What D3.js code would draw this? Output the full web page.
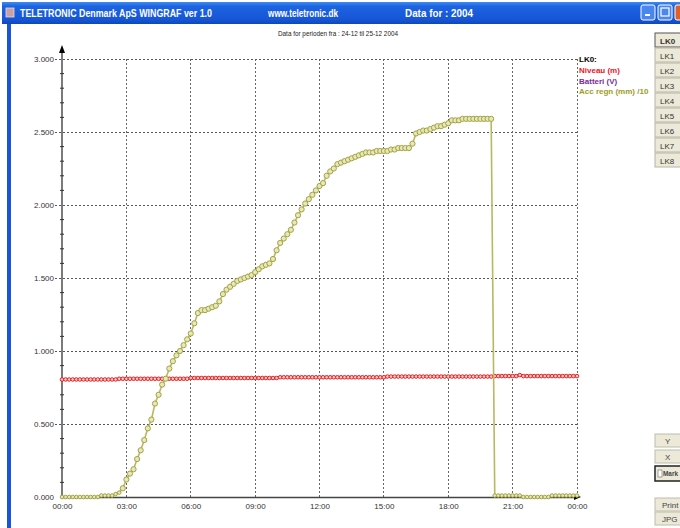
<!DOCTYPE html>
<html><head><meta charset="utf-8">
<script src="https://cdn.jsdelivr.net/npm/d3@7"></script>
<style>
html,body{margin:0;padding:0;background:#fff;}
svg{display:block;}
text{font-family:"Liberation Sans Narrow","Arial Narrow","Liberation Sans",sans-serif;}
</style></head>
<body>
<svg id="chart" width="680" height="528"></svg>
<script>
// ---- data ----
const xTickHours = [0, 3, 6, 9, 12, 15, 18, 21, 24];
const xTickLabels = ["00:00","03:00","06:00","09:00","12:00","15:00","18:00","21:00","00:00"];
const yTickValues = [0, 0.5, 1, 1.5, 2, 2.5, 3];
const yTickLabels = ["0.000","0.500","1.000","1.500","2.000","2.500","3.000"];
const sampleMinutes = 10; // one reading every 10 minutes, 00:00 .. 24:00

// Acc regn (mm)/10
const accRegn = [
 0,0,0,0,0,0,0,0,0,0,0,
 0.01,0.01,0.01,0.01,0.02,0.03,
 0.06,0.12,0.16,0.19,0.26,0.32,0.39,0.47,0.53,0.64,
 0.70,0.77,0.81,0.88,0.93,0.97,1.00,1.04,1.08,1.12,
 1.19,1.26,1.28,1.28,1.29,1.30,1.31,1.34,1.39,1.42,
 1.44,1.46,1.48,1.49,1.50,1.51,1.52,1.54,1.56,1.58,
 1.59,1.60,1.63,1.69,1.74,1.77,1.80,1.83,1.88,1.93,
 1.97,2.01,2.04,2.07,2.10,2.13,2.15,2.20,2.23,2.25,
 2.28,2.29,2.30,2.31,2.32,2.33,2.34,2.35,2.36,2.36,
 2.36,2.37,2.37,2.37,2.37,2.38,2.38,2.39,2.39,2.39,
 2.39,2.42,2.49,2.50,2.51,2.51,2.52,2.53,2.54,2.54,
 2.55,2.56,2.58,2.58,2.58,
 2.59,2.59,2.59,2.59,2.59,2.59,2.59,2.59,2.59,
 0.01,0.01,0.01,0.01,0.01,0.01,0.01,0.01,
 0,0,0,0,0,0,0,0,
 0.01,0.01,0.01,0.01,0.01,0.01,0.01,0.01
];

// Niveau (m)
const niveau = [
 0.805,0.805,0.805,0.805,0.805,0.805,0.805,0.805,0.805,0.805,0.805,0.805,0.805,0.805,0.805,0.805,
 0.81,0.81,0.81,0.81,0.81,0.81,0.81,0.81,0.81,0.81,0.81,0.81,0.81,0.81,0.81,0.81,0.81,0.81,0.81,0.81,
 0.815,0.815,0.815,0.815,0.815,0.815,0.815,0.815,0.815,0.815,0.815,0.815,0.815,0.815,0.815,0.815,0.815,0.815,0.815,0.815,0.815,0.815,0.815,0.815,0.815,
 0.82,0.82,0.82,0.82,0.82,0.82,0.82,0.82,0.82,0.82,0.82,0.82,0.82,0.82,0.82,0.82,0.82,0.82,0.82,0.82,0.82,0.82,0.82,0.82,0.82,0.82,0.82,0.82,0.82,0.82,
 0.825,0.825,0.825,0.825,0.825,0.825,0.825,0.825,0.825,0.825,0.825,0.825,0.825,0.825,0.825,0.825,0.825,0.825,0.825,0.825,0.825,0.825,0.825,0.825,0.825,0.825,0.825,0.825,0.825,0.825,
 0.828,0.828,0.828,0.828,0.828,0.828,0.828,0.835,0.828,0.828,0.828,0.828,0.828,0.828,0.828,0.828,0.828,0.828,0.828,0.828,0.828,0.828,0.828,0.828
];

const legendItems = [
 {label:"LK0:", color:"#000000"},
 {label:"Niveau (m)", color:"#e8141e"},
 {label:"Batteri (V)", color:"#7a2a9a"},
 {label:"Acc regn (mm) /10", color:"#9c9c1e"}
];
const channelButtons = ["LK0","LK1","LK2","LK3","LK4","LK5","LK6","LK7","LK8"];
const toolButtons = ["Y","X","Mark","","Print","JPG"];

// ---- drawing ----
const svg = d3.select("#chart");
const x = d3.scaleLinear().domain([0,24]).range([62,577]);
const y = d3.scaleLinear().domain([0,3]).range([497,59]);

// window chrome
const defs = svg.append("defs");
const g1 = defs.append("linearGradient").attr("id","tb").attr("x1",0).attr("y1",0).attr("x2",0).attr("y2",1);
g1.append("stop").attr("offset","0%").attr("stop-color","#3a8cf5");
g1.append("stop").attr("offset","20%").attr("stop-color","#1d63e0");
g1.append("stop").attr("offset","80%").attr("stop-color","#1656d6");
g1.append("stop").attr("offset","100%").attr("stop-color","#0f47b8");
svg.append("rect").attr("x",2).attr("y",2).attr("width",678).attr("height",22).attr("fill","url(#tb)");
svg.append("rect").attr("x",7).attr("y",24).attr("width",4).attr("height",504).attr("fill","#1a55d8");
svg.append("rect").attr("x",6).attr("y",8).attr("width",8).attr("height",9).attr("fill","#c8a0a8").attr("stroke","#e8d8dc").attr("stroke-width",0.8);
const titleTexts = [
 {t:"TELETRONIC Denmark ApS WINGRAF ver 1.0", x:20, w:192},
 {t:"www.teletronic.dk", x:268, w:70},
 {t:"Data for : 2004", x:405, w:68}
];
svg.selectAll("text.title").data(titleTexts).join("text").attr("class","title")
 .attr("x",d=>d.x).attr("y",17).attr("fill","#fff").attr("font-weight","bold").attr("font-size",10)
 .attr("textLength",d=>d.w).attr("lengthAdjust","spacingAndGlyphs").text(d=>d.t);
// title buttons
svg.append("rect").attr("x",641).attr("y",5).attr("width",14).attr("height",15).attr("rx",2).attr("fill","#4a86f0").attr("stroke","#fff").attr("stroke-width",1);
svg.append("rect").attr("x",645).attr("y",14).attr("width",5).attr("height",2).attr("fill","#fff");
svg.append("rect").attr("x",658).attr("y",5).attr("width",14).attr("height",15).attr("rx",2).attr("fill","#4a86f0").attr("stroke","#fff").attr("stroke-width",1);
svg.append("rect").attr("x",661).attr("y",8).attr("width",8).attr("height",8).attr("fill","none").attr("stroke","#fff").attr("stroke-width",1.2);
svg.append("rect").attr("x",675).attr("y",5).attr("width",14).attr("height",15).attr("rx",2).attr("fill","#e0602a").attr("stroke","#fff").attr("stroke-width",1);

// subtitle
svg.append("text").attr("x",338).attr("y",36).attr("text-anchor","middle").attr("font-size",8)
 .attr("textLength",120).attr("lengthAdjust","spacingAndGlyphs").attr("fill","#222")
 .text("Data for perioden fra : 24-12 til 25-12 2004");

// grid
const grid = svg.append("g");
grid.selectAll("line.h").data(yTickValues.slice(1)).join("line").attr("class","h")
 .attr("x1",55).attr("x2",x(24)).attr("y1",d=>y(d)).attr("y2",d=>y(d))
 .attr("stroke","#555").attr("stroke-width",1).attr("stroke-dasharray","2,2").attr("shape-rendering","crispEdges");
grid.selectAll("line.v").data(xTickHours.slice(1)).join("line").attr("class","v")
 .attr("x1",d=>x(d)).attr("x2",d=>x(d)).attr("y1",y(3)).attr("y2",y(0))
 .attr("stroke","#666").attr("stroke-width",1).attr("stroke-dasharray","2,2").attr("shape-rendering","crispEdges");

// y axis
svg.append("line").attr("x1",x(0)).attr("x2",x(0)).attr("y1",y(0)).attr("y2",50).attr("stroke","#222").attr("stroke-width",1.2);
svg.append("path").attr("d",`M${x(0)},45 L${x(0)-3},53 L${x(0)+3},53 Z`).attr("fill","#000");
svg.selectAll("line.mt").data(d3.range(1,30).filter(i=>i%5!==0)).join("line").attr("class","mt")
 .attr("x1",x(0)-2).attr("x2",x(0)+2).attr("y1",i=>y(i/10)).attr("y2",i=>y(i/10)).attr("stroke","#333").attr("stroke-width",1);
svg.selectAll("text.yl").data(yTickValues).join("text").attr("class","yl")
 .attr("x",54).attr("y",d=>y(d)+3).attr("text-anchor","end").attr("font-size",8).attr("fill","#333")
 .text((d,i)=>yTickLabels[i]);

// x axis
const xAxis = d3.axisBottom(x).tickValues(xTickHours).tickSize(0).tickPadding(6).tickFormat((d,i)=>xTickLabels[i]);
const xa = svg.append("g").attr("transform",`translate(0,${y(0)})`).call(xAxis);
xa.select(".domain").attr("stroke","#444").attr("stroke-width",1.5);
xa.selectAll("text").attr("font-size",8).attr("fill","#333").attr("font-family",null);
svg.append("path").attr("d",`M${x(24)+4},${y(0)} L${x(24)-3},${y(0)-3} L${x(24)-3},${y(0)+3} Z`).attr("fill","#000");

// series
const t = i => i*sampleMinutes/60;
const lineGen = d3.line().x((d,i)=>x(t(i))).y(d=>y(d));
svg.append("path").datum(niveau).attr("d",lineGen).attr("fill","none").attr("stroke","#f46a6a").attr("stroke-width",3);
svg.selectAll("circle.nv").data(niveau).join("circle").attr("class","nv")
 .attr("cx",(d,i)=>x(t(i))).attr("cy",d=>y(d)).attr("r",1.8)
 .attr("fill","#ffc8c8").attr("stroke","#e01818").attr("stroke-width",0.9);

svg.append("path").datum(accRegn).attr("d",lineGen).attr("fill","none").attr("stroke","#b8b862").attr("stroke-width",1.6);
svg.selectAll("circle.ac").data(accRegn).join("circle").attr("class","ac")
 .attr("cx",(d,i)=>x(t(i))).attr("cy",d=>y(d)).attr("r",d=>d<0.05?1.8:2.6)
 .attr("fill","#e8e8b4").attr("stroke","#a2a246").attr("stroke-width",1);

// legend
svg.selectAll("text.lg").data(legendItems).join("text").attr("class","lg")
 .attr("x",579).attr("y",(d,i)=>62+i*10.8).attr("font-size",8).attr("font-weight","bold")
 .attr("fill",d=>d.color).text(d=>d.label);

// right-hand buttons
const btn = svg.selectAll("g.cb").data(channelButtons).join("g").attr("class","cb")
 .attr("transform",(d,i)=>`translate(655,${33+i*15})`);
btn.append("rect").attr("width",28).attr("height",14).attr("fill","#ece9d8")
 .attr("stroke",(d,i)=>i===0?"#555":"#b8b4a4").attr("stroke-width",1);
btn.append("text").attr("x",5).attr("y",10.5).attr("font-size",8)
 .attr("font-weight",(d,i)=>i===0?"bold":"normal").attr("fill","#333").text(d=>d);

const tb = svg.selectAll("g.tb").data(toolButtons.map((d,i)=>({d,i})).filter(o=>o.d!=="")).join("g").attr("class","tb")
 .attr("transform",o=>`translate(655,${[434,450,466,0,498,512][o.i]})`);
tb.append("rect").attr("width",28).attr("height",o=>o.d==="Mark"?15:13).attr("fill","#ece9d8")
 .attr("stroke",o=>o.d==="Mark"?"#222":"#c0bcac").attr("stroke-width",o=>o.d==="Mark"?1.5:1);
tb.append("text").attr("x",o=>o.d==="Mark"?8:(o.d.length<2?10:7)).attr("y",10).attr("font-size",o=>o.d==="Mark"?7.5:8)
 .attr("font-weight",o=>o.d==="Mark"?"bold":"normal").attr("fill","#444")
 .attr("textLength",o=>o.d==="Mark"?15:null).attr("lengthAdjust","spacingAndGlyphs").text(o=>o.d);
tb.filter(o=>o.d==="Mark").append("rect").attr("x",3).attr("y",4).attr("width",4).attr("height",7).attr("fill","#fff").attr("stroke","#666").attr("stroke-width",0.6);
</script>
</body></html>
